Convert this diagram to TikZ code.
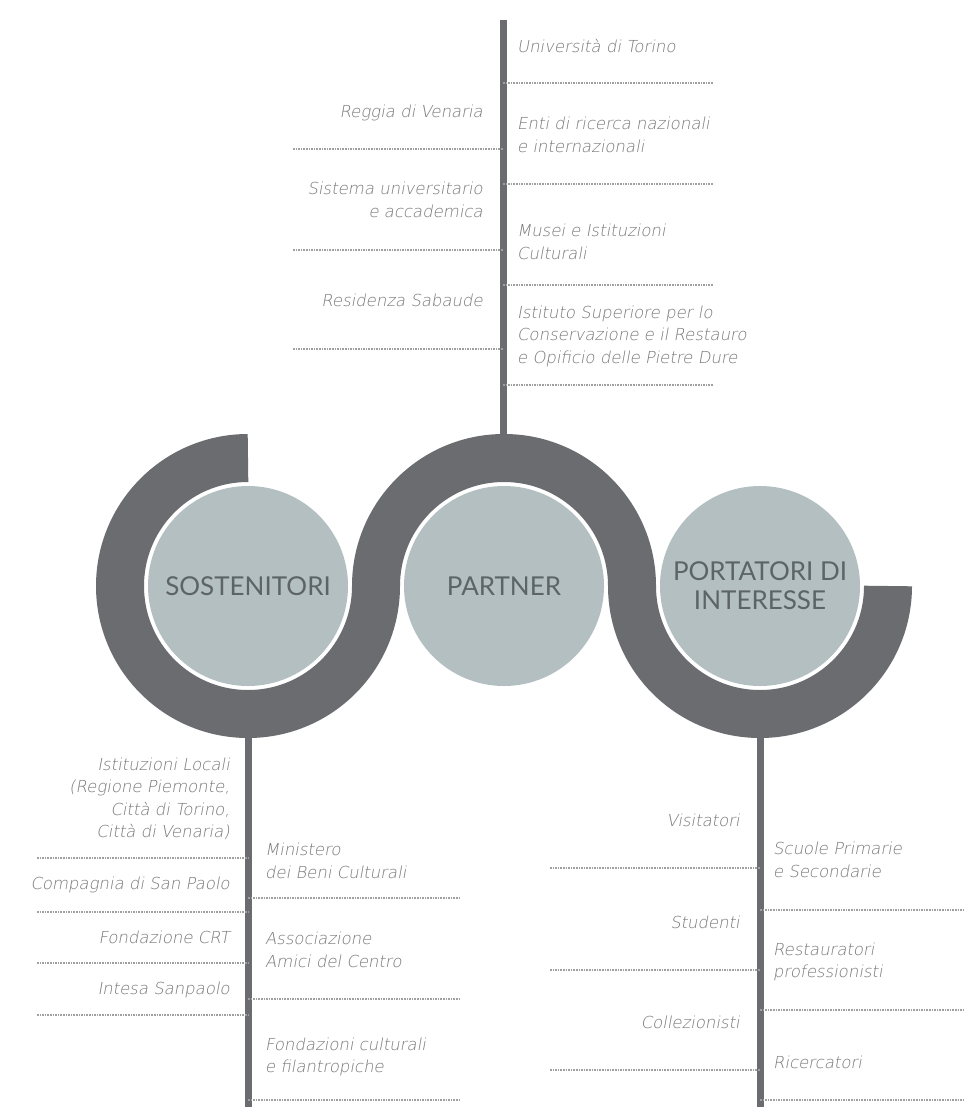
\documentclass[tikz,border=0pt]{standalone}
\usepackage{fontspec}
\setmainfont{Lato}
\newfontfamily\lblfont{DejaVu Sans ExtraLight}[FakeSlant=0.18]
\newfontfamily\capfont{Lato}
\definecolor{bandgray}{HTML}{6B6C70}
\definecolor{circfill}{HTML}{B4BFC1}
\definecolor{circtext}{HTML}{5C6468}
\definecolor{lblgray}{HTML}{787878}
\definecolor{sepgray}{HTML}{A0A0A0}
\tikzset{
  lbl/.style={font=\lblfont\fontsize{16.5}{22.5}\selectfont, text=lblgray, inner sep=0pt},
  lblL/.style={lbl, anchor=east, align=right},
  lblR/.style={lbl, anchor=west, align=left},
  sep/.style={draw=sepgray, line width=1.4pt, dash pattern=on 1.6pt off 1pt},
  stem/.style={draw=bandgray, line width=7pt},
  band/.style={draw=bandgray, line width=48pt, line cap=butt},
  bubble/.style={circle, fill=circfill, minimum size=200pt, inner sep=0pt, text=circtext,
    font=\capfont\fontsize{26}{29}\selectfont, align=center},
}
\begin{document}
\begin{tikzpicture}[x=1pt,y=-1pt]
\useasboundingbox (0,0) rectangle (965,1107);
\fill[white] (0,0) rectangle (965,1107);
% coordinates
\coordinate (topend) at (503,20);
\coordinate (sosend) at (248,1107);
\coordinate (porend) at (760,1107);
\coordinate (sosc) at (248,586);
\coordinate (parc) at (504,586);
\coordinate (porc) at (760,586);
\coordinate (partop) at (503,458);
\coordinate (sosbot) at (248,714);
\coordinate (porbot) at (760,714);
% stems
\draw[stem] (topend) -- (partop);
\draw[stem] (sosbot) -- (sosend);
\draw[stem] (porbot) -- (porend);
% band
\draw[band] (248,458) arc[start angle=270, end angle=0, radius=128]
   arc[start angle=180, end angle=360, radius=128]
   arc[start angle=180, end angle=0, radius=128];
% bubbles
\node[bubble] (sos) at (sosc) {SOSTENITORI};
\node[bubble] (par) at (parc) {PARTNER};
\node[bubble] (por) at (porc) {PORTATORI DI\\INTERESSE};
% top right separators
\foreach \y/\n in {83/a,184/b,285/c,385/d}{
  \coordinate (tr\n) at (713,\y);
  \draw[sep] (503,\y) -- (tr\n);
}
\foreach \y/\n in {149/a,250/b,349/c}{
  \coordinate (tl\n) at (293,\y);
  \draw[sep] (tl\n) -- (503,\y);
}
% bottom left separators
\foreach \y/\n in {858/a,912/b,963/c,1015/d}{
  \coordinate (bll\n) at (37,\y);
  \draw[sep] (bll\n) -- (248,\y);
}
\foreach \y/\n in {898/a,999/b,1100/c}{
  \coordinate (blr\n) at (460,\y);
  \draw[sep] (248,\y) -- (blr\n);
}
% bottom right separators
\foreach \y/\n in {868/a,970/b,1070/c}{
  \coordinate (brl\n) at (550,\y);
  \draw[sep] (brl\n) -- (760,\y);
}
\foreach \y/\n in {910/a,1010/b,1100/c}{
  \coordinate (brr\n) at (965,\y);
  \draw[sep] (760,\y) -- (brr\n);
}
% top labels
\node[lblR] (t1) at (517,46) {Università di Torino};
\node[lblR] (t2) at (517,135) {Enti di ricerca nazionali\\e internazionali};
\node[lblR] (t3) at (517,242) {Musei e Istituzioni\\Culturali};
\node[lblR] (t4) at (517,336) {Istituto Superiore per lo\\Conservazione e il Restauro\\e Opificio delle Pietre Dure};
\node[lblL] (t5) at (483,113) {Reggia di Venaria};
\node[lblL] (t6) at (483,200) {Sistema universitario\\e accademica};
\node[lblL] (t7) at (483,300) {Residenza Sabaude};
% bottom left labels
\node[lblL] (s1) at (230,799) {Istituzioni Locali\\(Regione Piemonte,\\Città di Torino,\\Città di Venaria)};
\node[lblL] (s2) at (230,885) {Compagnia di San Paolo};
\node[lblL] (s3) at (230,937) {Fondazione CRT};
\node[lblL] (s4) at (230,990) {Intesa Sanpaolo};
\node[lblR] (s5) at (265,861) {Ministero\\dei Beni Culturali};
\node[lblR] (s6) at (265,950) {Associazione\\Amici del Centro};
\node[lblR] (s7) at (265,1057) {Fondazioni culturali\\e filantropiche};
% bottom right labels
\node[lblL] (p1) at (740,820) {Visitatori};
\node[lblL] (p2) at (740,922) {Studenti};
\node[lblL] (p3) at (740,1022) {Collezionisti};
\node[lblR] (p4) at (773,860) {Scuole Primarie\\e Secondarie};
\node[lblR] (p5) at (773,962) {Restauratori\\professionisti};
\node[lblR] (p6) at (773,1062) {Ricercatori};
\end{tikzpicture}
\end{document}
